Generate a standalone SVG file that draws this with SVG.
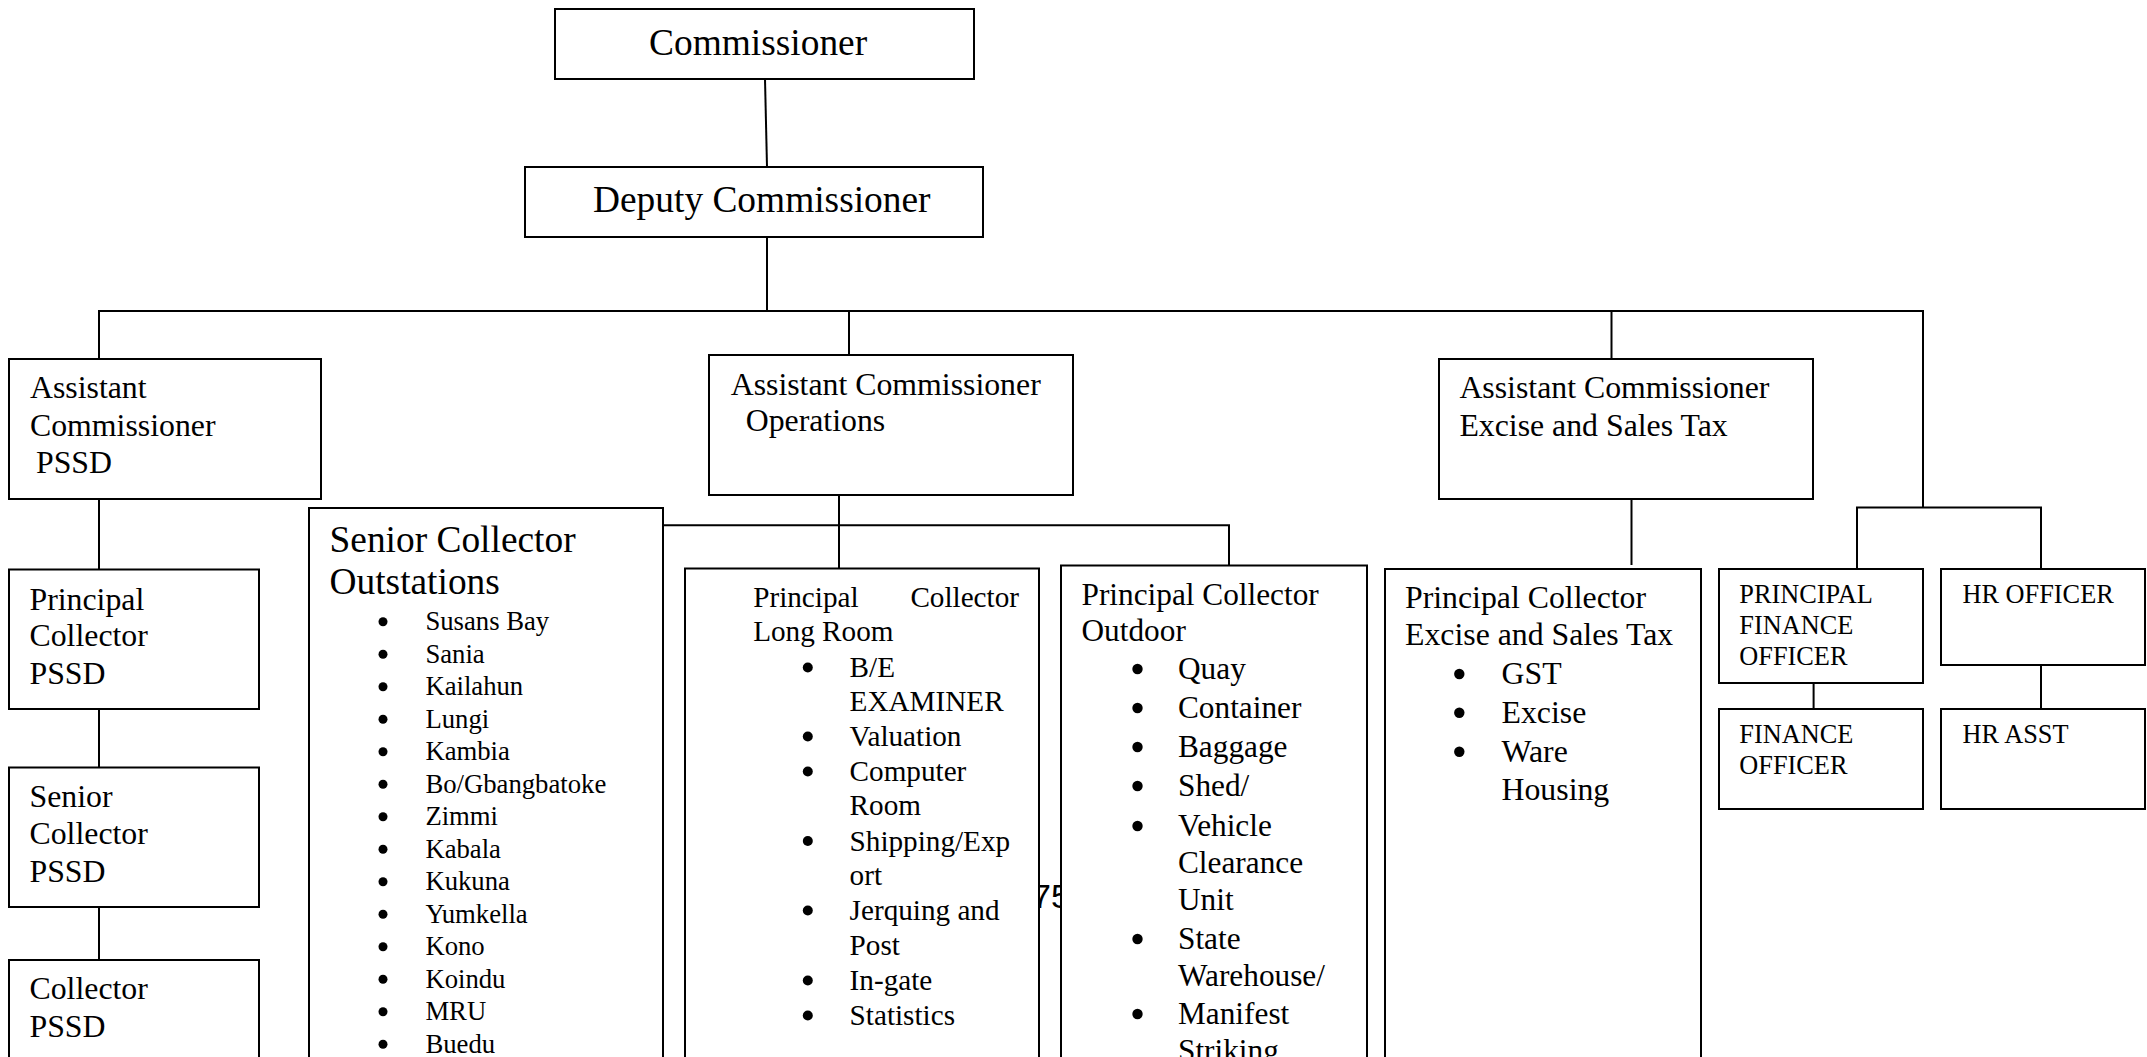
<svg xmlns="http://www.w3.org/2000/svg" width="2147" height="1057" viewBox="0 0 2147 1057">
  <style>
    .box { fill: #ffffff; stroke: #000000; stroke-width: 2; }
    .ln { stroke: #000000; stroke-width: 2; fill: none; }
    .dot { fill: #000000; }
    text { font-family: "Liberation Serif", "Times New Roman", serif; fill: #000000; }
    .t37 { font-size: 37.4px; }
    .t32 { font-size: 31.8px; }
    .t31 { font-size: 31.3px; }
    .t29 { font-size: 29.2px; }
    .t27 { font-size: 26.7px; }
    .t26 { font-size: 26.3px; }
    .pg { font-family: "Liberation Sans", Arial, sans-serif; font-size: 34px; }
  </style>

  <!-- page number printed behind the boxes -->
  <text class="pg" x="1032" y="908">75</text>

  <g id="connectors">
    <line class="ln" x1="765" y1="79" x2="767" y2="167"/>
    <line class="ln" x1="767" y1="237" x2="767" y2="311"/>
    <line class="ln" x1="98" y1="311" x2="1924" y2="311"/>
    <line class="ln" x1="99" y1="311" x2="99" y2="359"/>
    <line class="ln" x1="849" y1="311" x2="849" y2="355"/>
    <line class="ln" x1="1611.5" y1="311" x2="1611.5" y2="359"/>
    <line class="ln" x1="1923" y1="310" x2="1923" y2="507.5"/>
    <line class="ln" x1="1856" y1="507.5" x2="2042" y2="507.5"/>
    <line class="ln" x1="1857" y1="507.5" x2="1857" y2="569"/>
    <line class="ln" x1="2041" y1="507.5" x2="2041" y2="569"/>
    <line class="ln" x1="1813.6" y1="683" x2="1813.6" y2="709"/>
    <line class="ln" x1="2041" y1="665" x2="2041" y2="709"/>
    <line class="ln" x1="99" y1="499" x2="99" y2="569.5"/>
    <line class="ln" x1="99" y1="709" x2="99" y2="767.5"/>
    <line class="ln" x1="99" y1="907" x2="99" y2="960"/>
    <line class="ln" x1="839" y1="495" x2="839" y2="568.5"/>
    <line class="ln" x1="663" y1="525.3" x2="1230" y2="525.3"/>
    <line class="ln" x1="1229" y1="525.3" x2="1229" y2="565.5"/>
    <line class="ln" x1="1631.5" y1="499" x2="1631.5" y2="565"/>
  </g>

  <g id="commissioner">
    <rect class="box" x="555" y="9" width="419" height="70"/>
    <text class="t37" x="649" y="55">Commissioner</text>
  </g>

  <g id="deputy-commissioner">
    <rect class="box" x="525" y="167" width="458" height="70"/>
    <text class="t37" x="593" y="212">Deputy Commissioner</text>
  </g>

  <g id="ac-pssd">
    <rect class="box" x="9" y="359" width="312" height="140"/>
    <text class="t32" x="30" y="398.3">Assistant</text>
    <text class="t32" x="30" y="436">Commissioner</text>
    <text class="t32" x="36" y="473.3">PSSD</text>
  </g>

  <g id="ac-operations">
    <rect class="box" x="709" y="355" width="364" height="140"/>
    <text class="t32" x="730.7" y="395">Assistant Commissioner</text>
    <text class="t32" x="745.7" y="431">Operations</text>
  </g>

  <g id="ac-excise">
    <rect class="box" x="1439" y="359" width="374" height="140"/>
    <text class="t32" x="1459.4" y="398.3">Assistant Commissioner</text>
    <text class="t32" x="1459.4" y="436">Excise and Sales Tax</text>
  </g>

  <g id="pc-pssd">
    <rect class="box" x="9" y="569.5" width="250" height="139.5"/>
    <text class="t32" x="29.5" y="609.8">Principal</text>
    <text class="t32" x="29.5" y="646.4">Collector</text>
    <text class="t32" x="29.5" y="683.8">PSSD</text>
  </g>

  <g id="sc-pssd">
    <rect class="box" x="9" y="767.5" width="250" height="139.5"/>
    <text class="t32" x="29.5" y="807.3">Senior</text>
    <text class="t32" x="29.5" y="844.3">Collector</text>
    <text class="t32" x="29.5" y="881.8">PSSD</text>
  </g>

  <g id="collector-pssd">
    <rect class="box" x="9" y="960" width="250" height="120"/>
    <text class="t32" x="29.5" y="999.3">Collector</text>
    <text class="t32" x="29.5" y="1036.8">PSSD</text>
  </g>

  <g id="sc-outstations">
    <rect class="box" x="309" y="508" width="354" height="570"/>
    <text class="t37" x="329.5" y="551.7">Senior Collector</text>
    <text class="t37" x="329.5" y="593.8">Outstations</text>
    <g class="t27">
      <text x="425.4" y="630.3">Susans Bay</text>
      <text x="425.4" y="662.8">Sania</text>
      <text x="425.4" y="695.3">Kailahun</text>
      <text x="425.4" y="727.8">Lungi</text>
      <text x="425.4" y="760.3">Kambia</text>
      <text x="425.4" y="792.8">Bo/Gbangbatoke</text>
      <text x="425.4" y="825.3">Zimmi</text>
      <text x="425.4" y="857.8">Kabala</text>
      <text x="425.4" y="890.3">Kukuna</text>
      <text x="425.4" y="922.8">Yumkella</text>
      <text x="425.4" y="955.3">Kono</text>
      <text x="425.4" y="987.8">Koindu</text>
      <text x="425.4" y="1020.3">MRU</text>
      <text x="425.4" y="1052.8">Buedu</text>
    </g>
    <g class="dot">
      <circle cx="383" cy="621.8" r="4.5"/>
      <circle cx="383" cy="654.3" r="4.5"/>
      <circle cx="383" cy="686.8" r="4.5"/>
      <circle cx="383" cy="719.3" r="4.5"/>
      <circle cx="383" cy="751.8" r="4.5"/>
      <circle cx="383" cy="784.3" r="4.5"/>
      <circle cx="383" cy="816.8" r="4.5"/>
      <circle cx="383" cy="849.3" r="4.5"/>
      <circle cx="383" cy="881.8" r="4.5"/>
      <circle cx="383" cy="914.3" r="4.5"/>
      <circle cx="383" cy="946.8" r="4.5"/>
      <circle cx="383" cy="979.3" r="4.5"/>
      <circle cx="383" cy="1011.8" r="4.5"/>
      <circle cx="383" cy="1044.3" r="4.5"/>
    </g>
  </g>

  <g id="pc-long-room">
    <rect class="box" x="685" y="568.5" width="354" height="510"/>
    <text class="t29" y="607"><tspan x="753.2">Principal</tspan><tspan x="1019" text-anchor="end">Collector</tspan></text>
    <text class="t29" x="753.2" y="641">Long Room</text>
    <g class="t29">
      <text x="849.6" y="677">B/E</text>
      <text x="849.6" y="711">EXAMINER</text>
      <text x="849.6" y="746">Valuation</text>
      <text x="849.6" y="781">Computer</text>
      <text x="849.6" y="815">Room</text>
      <text x="849.6" y="850.6">Shipping/Exp</text>
      <text x="849.6" y="885">ort</text>
      <text x="849.6" y="920">Jerquing and</text>
      <text x="849.6" y="955">Post</text>
      <text x="849.6" y="990">In-gate</text>
      <text x="849.6" y="1025">Statistics</text>
    </g>
    <g class="dot">
      <circle cx="807.8" cy="667.5" r="5"/>
      <circle cx="807.8" cy="736.5" r="5"/>
      <circle cx="807.8" cy="771.5" r="5"/>
      <circle cx="807.8" cy="841" r="5"/>
      <circle cx="807.8" cy="910.5" r="5"/>
      <circle cx="807.8" cy="980.5" r="5"/>
      <circle cx="807.8" cy="1015.5" r="5"/>
    </g>
  </g>

  <g id="pc-outdoor">
    <rect class="box" x="1061" y="565.5" width="306" height="512"/>
    <text class="t31" x="1081.5" y="605">Principal Collector</text>
    <text class="t31" x="1081.5" y="641">Outdoor</text>
    <g class="t31">
      <text x="1178" y="679">Quay</text>
      <text x="1178" y="718">Container</text>
      <text x="1178" y="757">Baggage</text>
      <text x="1178" y="796">Shed/</text>
      <text x="1178" y="836">Vehicle</text>
      <text x="1178" y="873">Clearance</text>
      <text x="1178" y="910">Unit</text>
      <text x="1178" y="949">State</text>
      <text x="1178" y="986">Warehouse/</text>
      <text x="1178" y="1024">Manifest</text>
      <text x="1178" y="1061">Striking</text>
    </g>
    <g class="dot">
      <circle cx="1137.5" cy="669" r="5.2"/>
      <circle cx="1137.5" cy="708" r="5.2"/>
      <circle cx="1137.5" cy="747" r="5.2"/>
      <circle cx="1137.5" cy="786" r="5.2"/>
      <circle cx="1137.5" cy="826" r="5.2"/>
      <circle cx="1137.5" cy="939" r="5.2"/>
      <circle cx="1137.5" cy="1014" r="5.2"/>
    </g>
  </g>

  <g id="pc-excise">
    <rect class="box" x="1385" y="569" width="316" height="510"/>
    <text class="t32" x="1405" y="608.3">Principal Collector</text>
    <text class="t32" x="1405" y="645">Excise and Sales Tax</text>
    <g class="t32">
      <text x="1501.5" y="684">GST</text>
      <text x="1501.5" y="722.7">Excise</text>
      <text x="1501.5" y="761.7">Ware</text>
      <text x="1501.5" y="800">Housing</text>
    </g>
    <g class="dot">
      <circle cx="1459.3" cy="674" r="5.2"/>
      <circle cx="1459.3" cy="712.7" r="5.2"/>
      <circle cx="1459.3" cy="751.7" r="5.2"/>
    </g>
  </g>

  <g id="principal-finance-officer">
    <rect class="box" x="1719" y="569" width="204" height="114"/>
    <text class="t26" x="1739.3" y="603.3">PRINCIPAL</text>
    <text class="t26" x="1739.3" y="634.3">FINANCE</text>
    <text class="t26" x="1739.3" y="665">OFFICER</text>
  </g>

  <g id="finance-officer">
    <rect class="box" x="1719" y="709" width="204" height="100"/>
    <text class="t26" x="1739.3" y="743.3">FINANCE</text>
    <text class="t26" x="1739.3" y="774.3">OFFICER</text>
  </g>

  <g id="hr-officer">
    <rect class="box" x="1941" y="569" width="204" height="96"/>
    <text class="t26" x="1962.5" y="603.3">HR OFFICER</text>
  </g>

  <g id="hr-asst">
    <rect class="box" x="1941" y="709" width="204" height="100"/>
    <text class="t26" x="1962.5" y="743.3">HR ASST</text>
  </g>
</svg>
